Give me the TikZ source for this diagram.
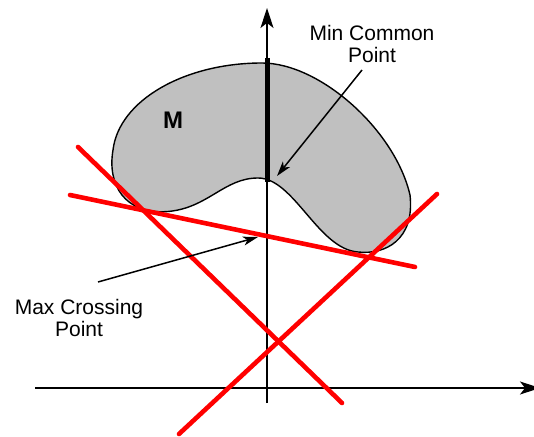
\documentclass[tikz,border=0pt]{standalone}
\usepackage{fontspec}
\setmainfont{Liberation Sans}
\usetikzlibrary{arrows.meta}
\begin{document}
\begin{tikzpicture}[x=0.5pt,y=-0.5pt,
  axis/.style={line width=0.6pt,-{Stealth[length=10pt,width=6.5pt,inset=2.5pt]}},
  redline/.style={red,line width=2.3pt,line cap=round},
  callout/.style={line width=0.75pt,-{Stealth[length=7.5pt,width=4.5pt,inset=2pt]}},
  lbl/.style={font=\fontsize{10.5}{11}\selectfont,align=center,inner sep=0pt},
  blob/.style={fill={rgb,255:red,192;green,192;blue,192},draw=black,line width=0.7pt}]
\useasboundingbox (0,0) rectangle (534,437);
% set M
\draw[blob] (168,211.5)
  .. controls (125,215) and (107,185) .. (113,150)
  .. controls (119,100) and (185,63) .. (262,63)
  .. controls (320,63) and (395,130) .. (410,195)
  .. controls (415,240) and (385,255) .. (358,252)
  .. controls (318,249) and (294,178) .. (258,178)
  .. controls (224,178) and (208,208) .. (168,211.5) -- cycle;
% axes
\coordinate (yb) at (267,403); \coordinate (yt) at (267,8);
\coordinate (xl) at (35,388); \coordinate (xr) at (540,388);
\draw[axis] (yb) -- (yt);
\draw[axis] (xl) -- (xr);
% thick bar
\coordinate (bt) at (267,58); \coordinate (bb) at (267,182);
\draw[line width=2.5pt] (bt) -- (bb);
% red lines
\coordinate (a1) at (78,147); \coordinate (a2) at (342,403);
\coordinate (b1) at (70,195); \coordinate (b2) at (415,267);
\coordinate (c1) at (179,434); \coordinate (c2) at (437,194);
\draw[redline] (a1) -- (a2);
\draw[redline] (b1) -- (b2);
\draw[redline] (c1) -- (c2);
% labels
\node[font=\bfseries\fontsize{12}{14}\selectfont,inner sep=0pt] (M) at (173,120.5) {M};
\node[lbl] (minlbl) at (372,44) {Min Common\\Point};
\node[lbl] (maxlbl) at (79,317.5) {Max Crossing\\Point};
% callout arrows
\coordinate (ms) at (362,70); \coordinate (mt) at (277,176);
\coordinate (xs) at (98,282); \coordinate (xt) at (258,237);
\draw[callout] (ms) -- (mt);
\draw[callout] (xs) -- (xt);
\end{tikzpicture}
\end{document}
